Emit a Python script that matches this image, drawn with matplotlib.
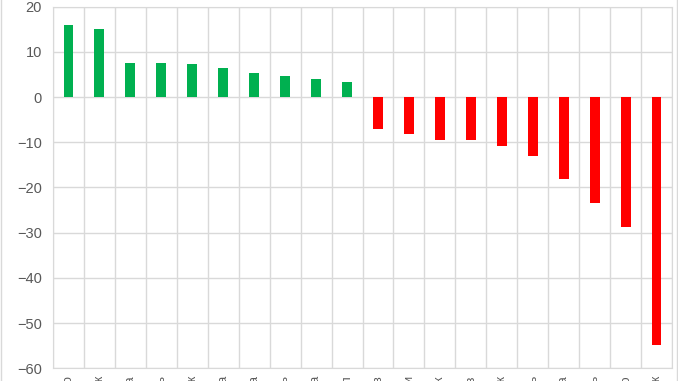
import numpy as np
import matplotlib.pyplot as plt
from matplotlib.lines import Line2D

# категории (подписи обрезаны снизу на картинке, видны только концы)
labels = ['Кемерово', 'Омск', 'Москва', 'Пермь', 'Курск', 'Тула', 'Чита', 'Тверь', 'Уфа', 'Орел',
          'Киров', 'Сочи', 'Липецк', 'Псков', 'Томск', 'Казань', 'Самара', 'Тюмень', 'Иваново', 'Якутск']
values = [15.9, 15.0, 7.5, 7.5, 7.4, 6.4, 5.3, 4.6, 4.0, 3.4,
          -7.1, -8.1, -9.5, -9.6, -10.9, -13.0, -18.2, -23.4, -28.7, -54.9]

green = '#00b050'
red = '#ff0000'
grid_col = '#d9d9d9'
text_col = '#595959'

fig = plt.figure(figsize=(6.78, 3.81), dpi=100)
ax = fig.add_axes([53 / 678, 1 - 368.3 / 381, (672 - 53) / 678, (368.3 - 6.7) / 381])

x = np.arange(len(values))
colors = [green if v > 0 else red for v in values]
ax.bar(x, values, width=0.32, color=colors, zorder=3)

ax.set_xlim(-0.5, len(values) - 0.5)
ax.set_ylim(-60, 20)
ax.set_yticks(np.arange(-60, 21, 10))

# вертикальные линии между категориями
for b in np.arange(-0.5, len(values), 1):
    ax.axvline(b, color=grid_col, lw=1, zorder=1)
ax.yaxis.grid(True, color=grid_col, lw=1, zorder=1)
ax.set_axisbelow(True)

for s in ax.spines.values():
    s.set_color(grid_col)

ax.set_xticks(x)
ax.set_xticklabels(labels, rotation=90, fontsize=9, color=text_col, family='Liberation Sans')
ax.tick_params(axis='x', length=0, pad=5)
ax.tick_params(axis='y', length=0, pad=8, labelsize=10.5, labelcolor=text_col)
for t in ax.get_yticklabels():
    t.set_family('Liberation Sans')

# рамка области диаграммы
fig.add_artist(Line2D([0.5 / 678, 0.5 / 678], [0, 1], color=grid_col, lw=1, transform=fig.transFigure))
fig.add_artist(Line2D([676.5 / 678, 676.5 / 678], [0, 1], color=grid_col, lw=1, transform=fig.transFigure))

fig.savefig('out.png', dpi=100)
